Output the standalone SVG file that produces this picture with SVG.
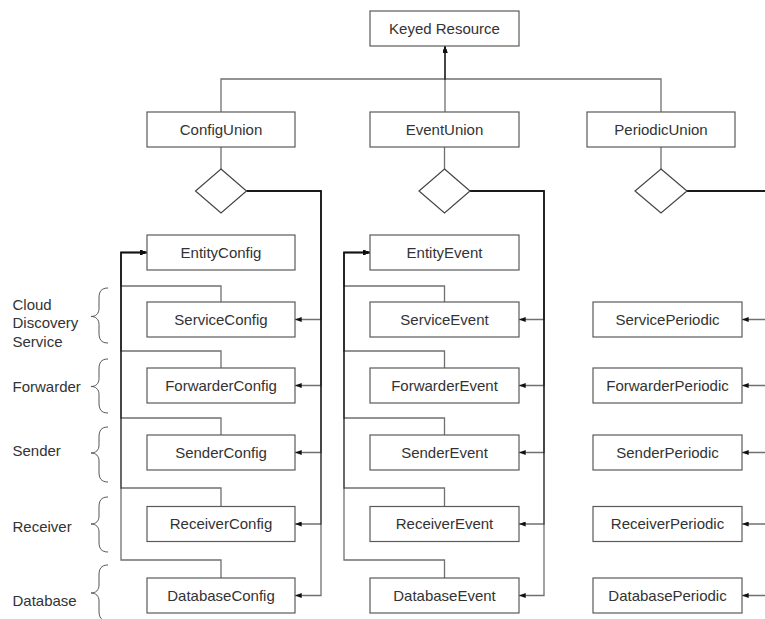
<svg xmlns="http://www.w3.org/2000/svg" width="765" height="619" viewBox="0 0 765 619">
<defs>
<style>
.box rect{fill:#fff;stroke:#5a5a5a;stroke-width:1.2}
.box text,.lbl{font-family:"Liberation Sans",Arial,sans-serif;font-size:15px;fill:#333}
.box text{text-anchor:middle}
.dia{fill:#fff;stroke:#444;stroke-width:1.2}
.c{fill:none;stroke:#111;stroke-opacity:0.6;stroke-width:1.3}
.a{marker-end:url(#ah)}
.brace{fill:none;stroke:#555;stroke-width:1}
</style>
<marker id="ah" markerUnits="userSpaceOnUse" viewBox="0 0 8 6" refX="8" refY="3" markerWidth="7" markerHeight="5" orient="auto">
<path d="M0,0 L8,3 L0,6 z" fill="#111"/>
</marker>
</defs>
<rect width="765" height="619" fill="#fff"/>

<g id="connectors">
<path class="c a" d="M221 112 V79 H445 V46"/>
<path class="c a" d="M661 112 V79 H445 V46"/>
<path class="c a" d="M445 112 V46"/>
<path class="c" d="M221 147 V169"/>
<path class="c" d="M444.5 147 V169"/>
<path class="c" d="M661 147 V169"/>

<path class="c a" d="M246.5 191 H321 V319.5 H295"/>
<path class="c a" d="M246.5 191 H321 V385.5 H295"/>
<path class="c a" d="M246.5 191 H321 V452.5 H295"/>
<path class="c a" d="M246.5 191 H321 V524 H295"/>
<path class="c a" d="M246.5 191 H321 V595.5 H295"/>

<path class="c a" d="M470 191 H544 V319.5 H519"/>
<path class="c a" d="M470 191 H544 V385.5 H519"/>
<path class="c a" d="M470 191 H544 V452.5 H519"/>
<path class="c a" d="M470 191 H544 V524 H519"/>
<path class="c a" d="M470 191 H544 V595.5 H519"/>

<path class="c a" d="M687 191 H775 V319.5 H742"/>
<path class="c a" d="M687 191 H775 V385.5 H742"/>
<path class="c a" d="M687 191 H775 V452.5 H742"/>
<path class="c a" d="M687 191 H775 V524 H742"/>
<path class="c a" d="M687 191 H775 V595.5 H742"/>

<path class="c a" d="M221 302 V286 H121 V252.5 H147"/>
<path class="c a" d="M221 368 V351 H121 V252.5 H147"/>
<path class="c a" d="M221 435 V418 H121 V252.5 H147"/>
<path class="c a" d="M221 506.5 V488 H121 V252.5 H147"/>
<path class="c a" d="M221 578 V560 H121 V252.5 H147"/>

<path class="c a" d="M444.5 302 V286 H344 V252.5 H370"/>
<path class="c a" d="M444.5 368 V351 H344 V252.5 H370"/>
<path class="c a" d="M444.5 435 V418 H344 V252.5 H370"/>
<path class="c a" d="M444.5 506.5 V488 H344 V252.5 H370"/>
<path class="c a" d="M444.5 578 V560 H344 V252.5 H370"/>
</g>

<g id="keyed-resource" class="box"><rect x="370" y="11" width="149" height="35"/><text x="444.5" y="33.5">Keyed Resource</text></g>

<g id="config-union" class="box"><rect x="147" y="112" width="148" height="35"/><text x="221" y="134.5">ConfigUnion</text></g>
<g id="event-union" class="box"><rect x="370" y="112" width="149" height="35"/><text x="444.5" y="134.5">EventUnion</text></g>
<g id="periodic-union" class="box"><rect x="587" y="112" width="148" height="35"/><text x="661" y="134.5">PeriodicUnion</text></g>

<g id="config-choice"><polygon class="dia" points="221,169 246.5,191 221,213 195.5,191"/></g>
<g id="event-choice"><polygon class="dia" points="444.5,169 470,191 444.5,213 419,191"/></g>
<g id="periodic-choice"><polygon class="dia" points="661,169 687,191 661,213 635,191"/></g>

<g id="entity-config" class="box"><rect x="147" y="235" width="148" height="35"/><text x="221" y="257.5">EntityConfig</text></g>
<g id="service-config" class="box"><rect x="147" y="302" width="148" height="35"/><text x="221" y="324.5">ServiceConfig</text></g>
<g id="forwarder-config" class="box"><rect x="147" y="368" width="148" height="35"/><text x="221" y="390.5">ForwarderConfig</text></g>
<g id="sender-config" class="box"><rect x="147" y="435" width="148" height="35"/><text x="221" y="457.5">SenderConfig</text></g>
<g id="receiver-config" class="box"><rect x="147" y="506.5" width="148" height="35"/><text x="221" y="529">ReceiverConfig</text></g>
<g id="database-config" class="box"><rect x="147" y="578" width="148" height="35"/><text x="221" y="600.5">DatabaseConfig</text></g>

<g id="entity-event" class="box"><rect x="370" y="235" width="149" height="35"/><text x="444.5" y="257.5">EntityEvent</text></g>
<g id="service-event" class="box"><rect x="370" y="302" width="149" height="35"/><text x="444.5" y="324.5">ServiceEvent</text></g>
<g id="forwarder-event" class="box"><rect x="370" y="368" width="149" height="35"/><text x="444.5" y="390.5">ForwarderEvent</text></g>
<g id="sender-event" class="box"><rect x="370" y="435" width="149" height="35"/><text x="444.5" y="457.5">SenderEvent</text></g>
<g id="receiver-event" class="box"><rect x="370" y="506.5" width="149" height="35"/><text x="444.5" y="529">ReceiverEvent</text></g>
<g id="database-event" class="box"><rect x="370" y="578" width="149" height="35"/><text x="444.5" y="600.5">DatabaseEvent</text></g>

<g id="service-periodic" class="box"><rect x="593" y="302" width="149" height="35"/><text x="667.5" y="324.5">ServicePeriodic</text></g>
<g id="forwarder-periodic" class="box"><rect x="593" y="368" width="149" height="35"/><text x="667.5" y="390.5">ForwarderPeriodic</text></g>
<g id="sender-periodic" class="box"><rect x="593" y="435" width="149" height="35"/><text x="667.5" y="457.5">SenderPeriodic</text></g>
<g id="receiver-periodic" class="box"><rect x="593" y="506.5" width="149" height="35"/><text x="667.5" y="529">ReceiverPeriodic</text></g>
<g id="database-periodic" class="box"><rect x="593" y="578" width="149" height="35"/><text x="667.5" y="600.5">DatabasePeriodic</text></g>

<g id="labels">
<text class="lbl" x="12.5" y="309.5">Cloud</text>
<text class="lbl" x="12.5" y="328">Discovery</text>
<text class="lbl" x="12.5" y="346.5">Service</text>
<text class="lbl" x="12.5" y="392">Forwarder</text>
<text class="lbl" x="12.5" y="456">Sender</text>
<text class="lbl" x="12.5" y="531.5">Receiver</text>
<text class="lbl" x="12.5" y="605.5">Database</text>
<path class="brace" d="M108 288 C101 288 99 292 99 298 V308.5 C99 313.5 96 316.5 91 316.5 C96 316.5 99 319.5 99 324.5 V333 C99 339 101 343 108 343"/>
<path class="brace" d="M108 359 C101 359 99 363 99 369 V378.5 C99 383.5 96 386.5 91 386.5 C96 386.5 99 389.5 99 394.5 V403 C99 409 101 413 108 413"/>
<path class="brace" d="M108 427 C101 427 99 431 99 437 V445 C99 450 96 453 91 453 C96 453 99 456 99 461 V472 C99 478 101 482 108 482"/>
<path class="brace" d="M108 497 C101 497 99 501 99 507 V516 C99 521 96 524 91 524 C96 524 99 527 99 532 V542 C99 548 101 552 108 552"/>
<path class="brace" d="M108 565 C101 565 99 569 99 575 V585 C99 590 96 593 91 593 C96 593 99 596 99 601 V611 C99 617 101 621 108 621"/>
</g>
</svg>
